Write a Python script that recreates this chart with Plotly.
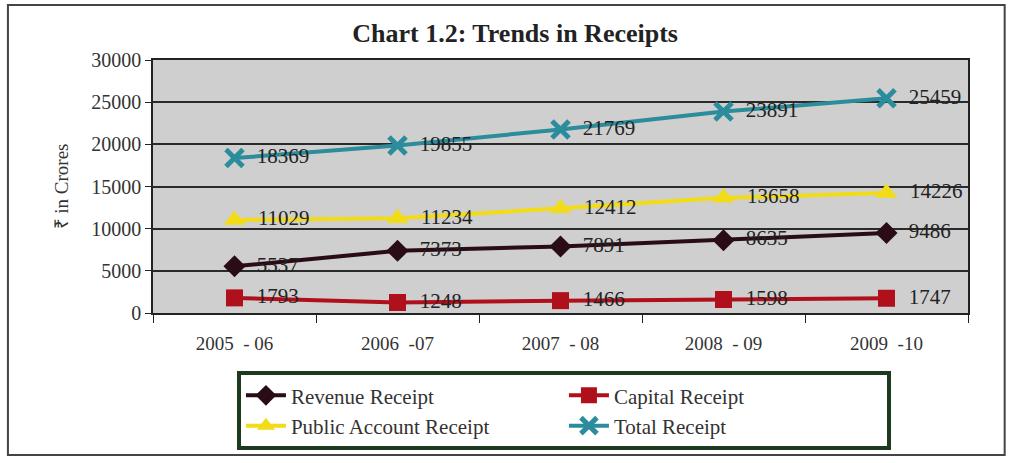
import plotly.graph_objects as go

years = ["2005  - 06", "2006  -07", "2007  - 08", "2008  - 09", "2009  -10"]
revenue = [5537, 7373, 7891, 8635, 9486]
capital = [1793, 1248, 1466, 1598, 1747]
public_account = [11029, 11234, 12412, 13658, 14226]
total = [18369, 19855, 21769, 23891, 25459]

series = [
    ("Revenue Receipt", revenue, "#2a0c16", "diamond", 17),
    ("Capital Receipt", capital, "#b0101c", "square", 17),
    ("Public Account Receipt", public_account, "#f2dc18", "triangle-up", 19),
    ("Total Receipt", total, "#2b8c9c", "x-thin-open", 17),
]

serif = "Liberation Serif"
fig = go.Figure()
for name, vals, color, sym, size in series:
    fig.add_trace(go.Scatter(
        x=years, y=vals, name=name,
        mode="lines+markers+text",
        text=["  " + str(v) for v in vals],
        textposition="middle right",
        textfont=dict(family=serif, size=21, color="#222"),
        line=dict(color=color, width=4),
        marker=dict(symbol=sym, size=size, color=color,
                    line=dict(color=color, width=5 if sym.startswith("x") else 0)),
        cliponaxis=False,
    ))

fig.update_layout(
    width=1014, height=463,
    margin=dict(l=153, r=46, t=60, b=150),
    paper_bgcolor="white",
    plot_bgcolor="#cfcfcf",
    title=dict(text="<b>Chart 1.2: Trends in Receipts</b>", x=0.508, xanchor="center",
               y=0.93, yanchor="middle",
               font=dict(family=serif, size=26, color="#222")),
    font=dict(family=serif, color="#333"),
    legend=dict(orientation="h", x=0.103, xanchor="left", y=-0.23, yanchor="top",
                entrywidth=268, entrywidthmode="pixels",
                bgcolor="white", bordercolor="#1e3a1e", borderwidth=4,
                font=dict(family=serif, size=21, color="#333"),
                itemwidth=40, tracegroupgap=0),
    showlegend=True,
)
fig.update_xaxes(
    type="category", range=[-0.5, 4.5], tickson="boundaries",
    ticks="outside", ticklen=8, tickcolor="#222",
    showline=True, linecolor="#222", linewidth=1.5, mirror=True,
    showgrid=False,
    tickfont=dict(family=serif, size=19, color="#333"),
    ticklabelstandoff=12,
)
fig.update_yaxes(
    range=[0, 30000], dtick=5000, tickformat="d",
    ticks="outside", ticklen=6, tickcolor="#222",
    showline=True, linecolor="#222", linewidth=1.5, mirror=True,
    showgrid=True, gridcolor="#2a2a2a", gridwidth=1.5,
    zeroline=False,
    tickfont=dict(family=serif, size=20, color="#333"),
    title=dict(text="₹ in Crores", font=dict(family=serif, size=19, color="#333"), standoff=18),
)
fig.add_shape(type="rect", xref="paper", yref="paper",
              x0=-0.178, x1=1.045, y0=-0.561, y1=1.217,
              line=dict(color="#444", width=2), layer="below")

fig.write_html("out.html")
